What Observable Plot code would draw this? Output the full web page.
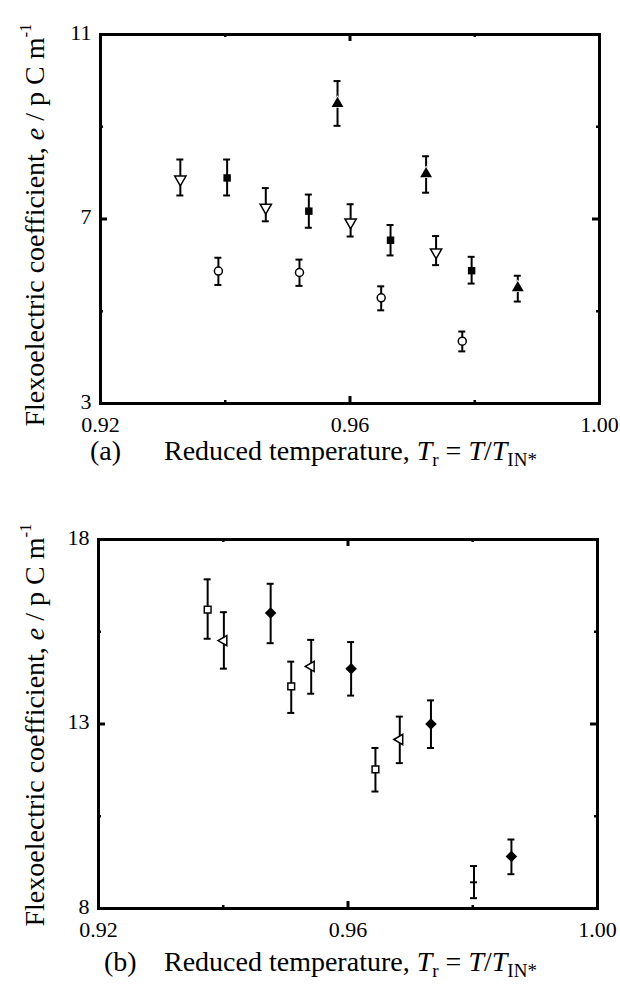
<!DOCTYPE html>
<html>
<head>
<meta charset="utf-8">
<script src="https://cdn.jsdelivr.net/npm/d3@7"></script>
<script src="https://cdn.jsdelivr.net/npm/@observablehq/plot@0.6"></script>
<style>
  html, body { margin: 0; padding: 0; background: white; }
  #wrap { position: relative; width: 620px; height: 984px; overflow: hidden; font-family: "Liberation Serif", "Times New Roman", serif; color: black; }
  #wrap svg { position: absolute; left: 0; }
  .ylab { position: absolute; white-space: nowrap; font-size: 28px; line-height: 1; transform: translate(-50%, -50%) rotate(-90deg); }
  .cap { position: absolute; white-space: nowrap; font-size: 28px; line-height: 1; }
  .sub { font-size: 0.68em; position: relative; top: 0.3em; }
  .sup { font-size: 0.6em; position: relative; top: -0.75em; }
</style>
</head>
<body>
<div id="wrap"></div>
<script>
// ---------- shared axis values ----------
const xTicks = [0.92, 0.96, 1.00];
const xMajor = [0.96];
const xMinor = [0.94, 0.98];

// ---------- panel (a) ----------
const yTicksA = [3, 7, 11];
const yMajorA = [7];
const yMinorA = [5, 9];

// open down-triangles
const aDownX  = [0.9328, 0.9465, 0.9601, 0.9738];
const aDownY  = [7.86, 7.25, 6.93, 6.28];
const aDownLo = [7.51, 6.95, 6.62, 6.00];
const aDownHi = [8.29, 7.67, 7.32, 6.63];
// filled squares
const aSqX  = [0.9403, 0.9534, 0.9665, 0.9795];
const aSqY  = [7.89, 7.17, 6.54, 5.88];
const aSqLo = [7.51, 6.81, 6.21, 5.60];
const aSqHi = [8.29, 7.53, 6.87, 6.18];
// filled up-triangles
const aTriX  = [0.9580, 0.9722, 0.9869];
const aTriY  = [9.50, 7.98, 5.51];
const aTriLo = [9.02, 7.57, 5.21];
const aTriHi = [9.99, 8.36, 5.77];
// open circles
const aCircX  = [0.9389, 0.9519, 0.9650, 0.9780];
const aCircY  = [5.87, 5.84, 5.29, 4.35];
const aCircLo = [5.57, 5.55, 5.02, 4.13];
const aCircHi = [6.16, 6.12, 5.54, 4.56];

// ---------- panel (b) ----------
const yTicksB = [8, 13, 18];
const yMajorB = [13];
const yMinorB = [10.5, 15.5];

// open squares
const bSqX  = [0.9375, 0.9509, 0.9644];
const bSqY  = [16.10, 14.02, 11.77];
const bSqLo = [15.31, 13.30, 11.17];
const bSqHi = [16.92, 14.69, 12.35];
// open left-triangles
const bLeftX  = [0.9401, 0.9541, 0.9683];
const bLeftY  = [15.26, 14.56, 12.58];
const bLeftLo = [14.50, 13.82, 11.94];
const bLeftHi = [16.03, 15.28, 13.20];
// filled diamonds
const bDiaX  = [0.9476, 0.9605, 0.9733, 0.9862];
const bDiaY  = [16.01, 14.50, 13.00, 9.41];
const bDiaLo = [15.19, 13.77, 12.35, 8.93];
const bDiaHi = [16.80, 15.22, 13.64, 9.87];
// plus (dash) marker
const bDashX  = [0.9802];
const bDashY  = [8.71];
const bDashLo = [8.28];
const bDashHi = [9.15];

// ---------- helpers ----------
const rows = (xs, ys, lo, hi) => xs.map((x, i) => ({x, y: ys[i], lo: lo[i], hi: hi[i]}));

function errorBars(data) {
  return [
    Plot.ruleX(data, {x: "x", y1: "lo", y2: "hi", stroke: "black", strokeWidth: 2}),
    Plot.ruleY(data, {y: "lo", x1: "x", x2: "x", insetLeft: -3.5, insetRight: -3.5, stroke: "black", strokeWidth: 2}),
    Plot.ruleY(data, {y: "hi", x1: "x", x2: "x", insetLeft: -3.5, insetRight: -3.5, stroke: "black", strokeWidth: 2})
  ];
}

function frameTicks(xs, ys, len, sw, W, H) {
  return [
    Plot.ruleX(xs, {x: d => d, insetTop: H - len, stroke: "black", strokeWidth: sw}),
    Plot.ruleX(xs, {x: d => d, insetBottom: H - len, stroke: "black", strokeWidth: sw}),
    Plot.ruleY(ys, {y: d => d, insetRight: W - len, stroke: "black", strokeWidth: sw}),
    Plot.ruleY(ys, {y: d => d, insetLeft: W - len, stroke: "black", strokeWidth: sw})
  ];
}

const fontStyle = {fontFamily: "'Liberation Serif', 'Times New Roman', serif", fontSize: "22px", color: "black", background: "white", overflow: "visible"};
const fmt = d3.format(".2f");

function panel({yDomain, yTicks, yMajor, yMinor, mLeft, mRight, mTop, mBottom, height, series}) {
  const W = 620 - mLeft - mRight;
  const H = height - mTop - mBottom;
  return Plot.plot({
    width: 620, height,
    marginLeft: mLeft, marginRight: mRight, marginTop: mTop, marginBottom: mBottom,
    style: fontStyle,
    x: {domain: [0.92, 1.00], label: null},
    y: {domain: yDomain, label: null},
    marks: [
      ...frameTicks(xMinor, yMinor, 3, 2.5, W, H),
      ...frameTicks(xMajor, yMajor, 7, 3, W, H),
      Plot.frame({stroke: "black", strokeWidth: 3}),
      Plot.axisX(xTicks, {tickSize: 0, tickPadding: 13, tickFormat: fmt, label: null}),
      Plot.axisY(yTicks, {tickSize: 0, tickPadding: 9, dy: -2, label: null}),
      ...series
    ]
  });
}

// ---------- panel (a) ----------
const downA = rows(aDownX, aDownY, aDownLo, aDownHi);
const sqA = rows(aSqX, aSqY, aSqLo, aSqHi);
const triA = rows(aTriX, aTriY, aTriLo, aTriHi);
const circA = rows(aCircX, aCircY, aCircLo, aCircHi);

const plotA = panel({
  yDomain: [3, 11], yTicks: yTicksA, yMajor: yMajorA, yMinor: yMinorA,
  mLeft: 100, mRight: 21, mTop: 34, mBottom: 37, height: 440,
  series: [
    ...errorBars(downA), ...errorBars(sqA), ...errorBars(triA), ...errorBars(circA),
    Plot.dot(downA, {x: "x", y: "y", symbol: "triangle", rotate: 180, r: 4.2, fill: "white", stroke: "black", strokeWidth: 1.5}),
    Plot.dot(sqA, {x: "x", y: "y", symbol: "square", r: 4.2, fill: "black", stroke: "none"}),
    Plot.dot(triA, {x: "x", y: "y", symbol: "triangle", r: 4.4, fill: "black", stroke: "white", strokeWidth: 1.5, paintOrder: "stroke"}),
    Plot.dot(circA, {x: "x", y: "y", symbol: "circle", r: 4, fill: "white", stroke: "black", strokeWidth: 1.5})
  ]
});

// ---------- panel (b) ----------
const sqB = rows(bSqX, bSqY, bSqLo, bSqHi);
const leftB = rows(bLeftX, bLeftY, bLeftLo, bLeftHi);
const diaB = rows(bDiaX, bDiaY, bDiaLo, bDiaHi);
const dashB = rows(bDashX, bDashY, bDashLo, bDashHi);

const plotB = panel({
  yDomain: [8, 18], yTicks: yTicksB, yMajor: yMajorB, yMinor: yMinorB,
  mLeft: 98, mRight: 23, mTop: 34, mBottom: 37, height: 440,
  series: [
    ...errorBars(sqB), ...errorBars(leftB), ...errorBars(diaB), ...errorBars(dashB),
    Plot.ruleY(dashB, {y: "y", x1: "x", x2: "x", insetLeft: -3.5, insetRight: -3.5, stroke: "black", strokeWidth: 2}),
    Plot.dot(sqB, {x: "x", y: "y", symbol: "square", r: 3.8, fill: "white", stroke: "black", strokeWidth: 1.5}),
    Plot.dot(leftB, {x: "x", y: "y", symbol: "triangle", rotate: -90, r: 3.8, fill: "white", stroke: "black", strokeWidth: 1.5}),
    Plot.dot(diaB, {x: "x", y: "y", symbol: "diamond2", r: 5.2, fill: "black", stroke: "none"})
  ]
});

const wrap = document.getElementById("wrap");
plotA.style.top = "0px";
plotB.style.top = "505px";
wrap.appendChild(plotA);
wrap.appendChild(plotB);

function addHTML(cls, html, style) {
  const d = document.createElement("div");
  d.className = cls;
  d.innerHTML = html;
  Object.assign(d.style, style);
  wrap.appendChild(d);
}
const yLabel = 'Flexoelectric coefficient, <i>e</i> / p C m<span class="sup">-1</span>';
const xLabel = 'Reduced temperature, <i>T</i><span class="sub">r</span> = <i>T</i>/<i>T</i><span class="sub">IN*</span>';

addHTML("ylab", yLabel, {left: "35px", top: "225px"});
addHTML("ylab", yLabel, {left: "35px", top: "725px"});
addHTML("cap", "(a)", {left: "90px", top: "437px"});
addHTML("cap", xLabel, {left: "164px", top: "437px"});
addHTML("cap", "(b)", {left: "104px", top: "948px"});
addHTML("cap", xLabel, {left: "164px", top: "948px"});
</script>
</body>
</html>
